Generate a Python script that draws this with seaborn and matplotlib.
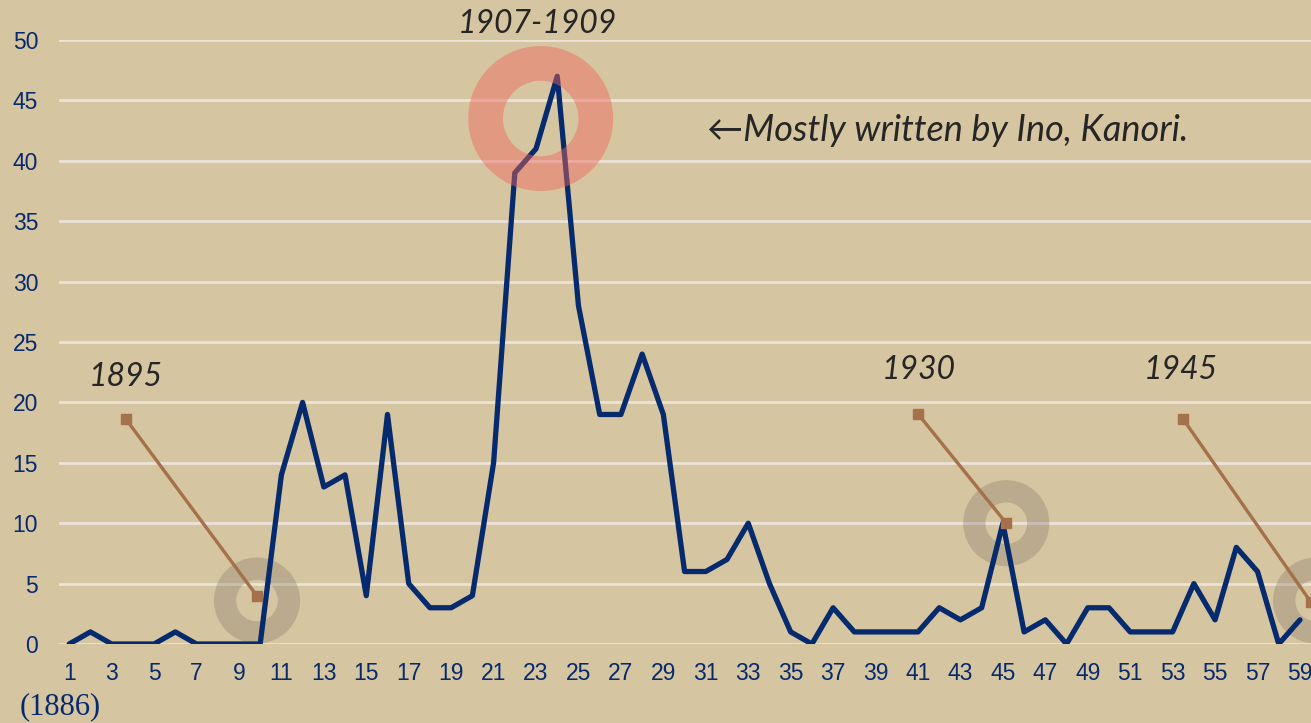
import numpy as np
import pandas as pd
import matplotlib
matplotlib.use("Agg")
import matplotlib.pyplot as plt
import seaborn as sns

# yearly counts, index 1 = 1886
years = list(range(1, 60))
counts = [0, 1, 0, 0, 0, 1, 0, 0, 0, 0,
          14, 20, 13, 14, 4, 19, 5, 3, 3, 4,
          15, 39, 41, 47, 28, 19, 19, 24, 19, 6,
          6, 7, 10, 5, 1, 0, 3, 1, 1, 1,
          1, 3, 2, 3, 10, 1, 2, 0, 3, 3,
          1, 1, 1, 5, 2, 8, 6, 0, 2]
xticks = list(range(1, 60, 2))
yticks = list(range(0, 51, 5))

# callouts: label, label position, connector start, connector end / ring centre
callout_labels = ["1895", "1930", "1945"]
callout_text_xy = [(3.65, 22.1), (41.05, 22.7), (53.4, 22.7)]
callout_start = [(3.68, 18.6), (41.02, 19.0), (53.5, 18.6)]
callout_end = [(9.85, 3.97), (45.16, 10.0), (59.5, 3.5)]
ring_centres = [(9.85, 3.6), (45.16, 10.0), (59.76, 3.6)]

BG = "#d6c5a1"
NAVY = "#062a6e"
BROWN = "#a4714a"

df = pd.DataFrame({"year": years, "count": counts})

sns.set_style("white")
plt.rcParams["font.family"] = ["Liberation Sans", "DejaVu Sans"]

fig = plt.figure(figsize=(13.11, 7.23), dpi=100, facecolor=BG)
ax = fig.add_axes([59 / 1311, 79 / 723, 1 - 59 / 1311, (644 - 40) / 723])
ax.set_facecolor(BG)

ax.set_xlim(0.52, 59.52)
ax.set_ylim(0, 50)
for y in yticks:
    ax.axhline(y, color="#ebe2d8", lw=2, zorder=1)

# grey rings behind the line
for cx, cy in ring_centres:
    ax.scatter([cx], [cy], s=2116, marker="o", facecolors="none",
               edgecolors="#857868", linewidths=16, alpha=0.33, zorder=2, clip_on=True)

sns.lineplot(data=df, x="year", y="count", ax=ax, color=NAVY, lw=3.8, zorder=3)

# red ring on top of the peak
ax.scatter([23.22], [43.5], s=6300, marker="o", facecolors="none",
           edgecolors="#f0665a", linewidths=25, alpha=0.45, zorder=4)

for lab, (tx, ty), (x0, y0), (x1, y1) in zip(callout_labels, callout_text_xy, callout_start, callout_end):
    ax.plot([x0, x1], [y0, y1], color=BROWN, lw=2.4, marker="s", ms=7, zorder=5, clip_on=True)
    ax.text(tx, ty, lab, fontsize=23, style="italic", color="#262626",
            family=["Lato", "DejaVu Sans"], ha="center", va="center", zorder=6)

ax.text(23.05, 51.3, "1907-1909", fontsize=23, style="italic", color="#262626",
        family=["Lato", "DejaVu Sans"], ha="center", va="center", clip_on=False)
ax.text(31.05, 42.5, "\u2190Mostly written by Ino, Kanori.", fontsize=26, style="italic",
        color="#262626", family=["Lato", "DejaVu Sans"], ha="left", va="center")

ax.set_xticks(xticks)
ax.set_yticks(yticks)
ax.tick_params(axis="both", length=0, labelsize=16.5, labelcolor=NAVY)
ax.tick_params(axis="x", pad=13)
ax.tick_params(axis="y", pad=15)
for t in ax.get_yticklabels():
    t.set_horizontalalignment("right")
ax.set_xlabel("")
ax.set_ylabel("")
for s in ax.spines.values():
    s.set_visible(False)

fig.text(20 / 1311, 1 - 707 / 723, "(1886)", fontsize=22, color=NAVY,
         family=["Liberation Serif", "DejaVu Serif"], ha="left", va="center")

fig.savefig("out.png", dpi=100, facecolor=BG)
